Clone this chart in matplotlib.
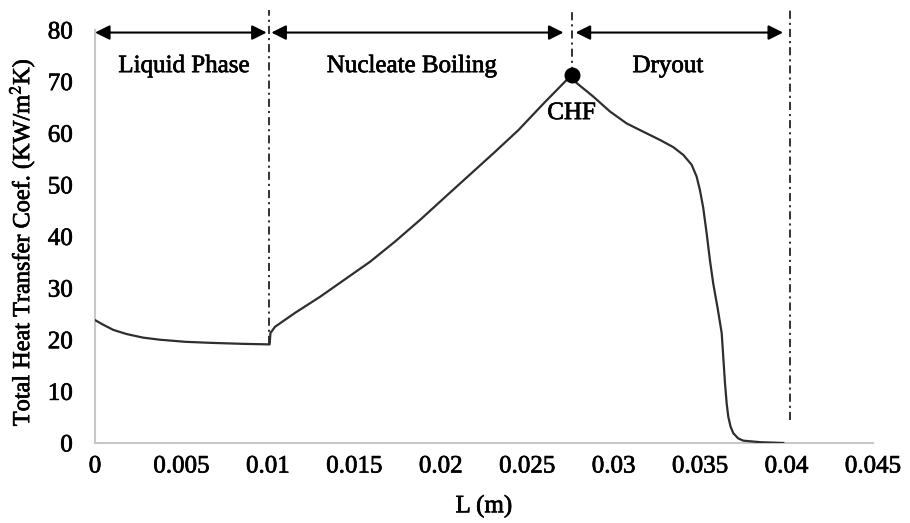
import matplotlib
matplotlib.use("Agg")
import matplotlib.pyplot as plt
import matplotlib.patheffects as pe

# Heat transfer coefficient along the channel length
length_m = [0.0, 0.00048, 0.00106, 0.00183, 0.00279, 0.00376, 0.00521, 0.00665, 0.00858, 0.01002,
            0.0101, 0.01015, 0.01041, 0.01157, 0.01301, 0.01446, 0.01591, 0.01735, 0.0188,
            0.02024, 0.02169, 0.02314, 0.02449, 0.02593, 0.02757,
            0.02776, 0.02882, 0.02979, 0.03075, 0.03171, 0.03268, 0.03345, 0.03403, 0.03451,
            0.0348, 0.03499, 0.03518, 0.03538, 0.03557, 0.03576, 0.03602, 0.03625, 0.03644,
            0.03654, 0.03663, 0.03676, 0.03692, 0.0372, 0.0375, 0.0385, 0.03981]
htc_kw = [23.8, 22.9, 21.9, 21.1, 20.4, 20.0, 19.6, 19.4, 19.2, 19.1,
          19.1, 21.3, 22.5, 25.2, 28.3, 31.7, 35.1, 39.0, 43.2,
          47.6, 52.0, 56.4, 60.6, 65.7, 71.3,
          70.0, 67.1, 64.2, 61.9, 60.3, 58.7, 57.3, 55.8, 53.9,
          51.6, 49.0, 45.6, 40.6, 35.4, 30.9, 26.0, 21.3, 11.6,
          7.6, 5.1, 3.2, 1.9, 0.9, 0.45, 0.15, 0.0]

chf_point = (0.02757, 71.3)
boundaries = [0.01006, 0.02757, 0.0402]
boundary_bottoms = [19.1, 71.3, 4.5]
regions = ["Liquid Phase", "Nucleate Boiling", "Dryout"]
region_spans = [(0.0, 0.00993), (0.0102, 0.0271), (0.0278, 0.0398)]
region_label_x = [0.00515, 0.01834, 0.03314]

x_ticks = [0, 0.005, 0.01, 0.015, 0.02, 0.025, 0.03, 0.035, 0.04, 0.045]
x_tick_labels = ["0", "0.005", "0.01", "0.015", "0.02", "0.025", "0.03", "0.035", "0.04", "0.045"]
y_ticks = [0, 10, 20, 30, 40, 50, 60, 70, 80]

plt.rcParams["font.family"] = ["Liberation Serif", "DejaVu Serif"]
plt.rcParams["mathtext.fontset"] = "stix"

FS = 18
heavy = [pe.withStroke(linewidth=0.5, foreground="black")]

fig = plt.figure(figsize=(9.10, 5.23), dpi=100)
ax = fig.add_axes([0.1044, 0.153, 0.8549, 0.7897])

ax.plot(length_m, htc_kw, color="#2e2e2e", lw=1.6, zorder=3,
        solid_joinstyle="round")
ax.plot(*chf_point, "o", color="black", ms=10.5, zorder=4)

dash = (0, (4.5, 2.2, 1.2, 2.2))
for xb, yb in zip(boundaries, boundary_bottoms):
    ax.plot([xb, xb], [yb, 83.9], color="#222222", lw=1.3, linestyle=dash,
            clip_on=False, zorder=2)

for (x0, x1), name, lx in zip(region_spans, regions, region_label_x):
    ax.annotate("", xy=(x1, 79.5), xytext=(x0, 79.5),
                arrowprops=dict(arrowstyle="<|-|>", color="black", lw=1.5,
                                mutation_scale=22, shrinkA=0, shrinkB=0),
                annotation_clip=False)
    ax.text(lx, 73.0, name, ha="center", va="center", fontsize=FS,
            path_effects=heavy)

ax.text(chf_point[0], 63.9, "CHF", ha="center", va="center", fontsize=FS,
        path_effects=heavy)

ax.set_xlim(0, 0.045)
ax.set_ylim(0, 80)
ax.set_xticks(x_ticks)
ax.set_xticklabels(x_tick_labels)
ax.set_yticks(y_ticks)
ax.tick_params(axis="both", length=0, labelsize=FS)
ax.tick_params(axis="x", pad=9)
ax.tick_params(axis="y", pad=16)
for lbl in ax.get_xticklabels() + ax.get_yticklabels():
    lbl.set_path_effects(heavy)

for side in ("top", "right"):
    ax.spines[side].set_visible(False)
for side in ("left", "bottom"):
    ax.spines[side].set_color("#c8c8c8")
    ax.spines[side].set_linewidth(1.5)

ax.set_xlabel("L (m)", fontsize=FS, path_effects=heavy)
ax.xaxis.set_label_coords(0.5, -0.125)
ax.set_ylabel("Total Heat Transfer Coef. (KW/m$^2$K)", fontsize=17.5,
              path_effects=heavy)
ax.yaxis.set_label_coords(-0.0746, 0.485)

fig.savefig("out.png", dpi=100)
